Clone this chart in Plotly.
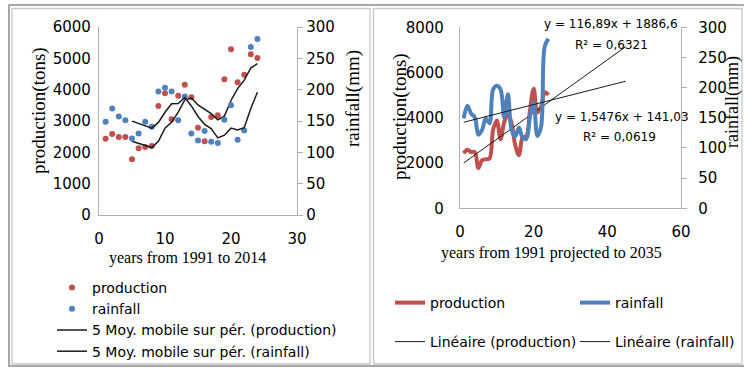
import plotly.graph_objects as go
import pandas as pd

years = list(range(1, 25))
production = [2436, 2585, 2489, 2489, 1777, 2128, 2170, 2202, 3479, 3883, 3053, 3809,
              4160, 3755, 2787, 2351, 3128, 3181, 4330, 5287, 4234, 4479, 5128, 5011]
rainfall = [149, 170, 157, 151, 122, 130, 149, 141, 197, 203, 197, 151,
            189, 130, 119, 134, 117, 115, 152, 175, 120, 135, 268, 281]
trend_x = [1, 45]
prod_trend = [116.89, 1886.6]   # slope, intercept
rain_trend = [1.5476, 141.03]

W, H = 744, 369
def px(x): return x / W
def py(y): return 1 - y / H

RED = "#c0504d"
BLUE = "#4f81bd"
AX = "#b0b0b0"
SANS = "DejaVu Sans"
SERIF = "Liberation Serif"

prod_ma = pd.Series(production).rolling(5).mean()
rain_ma = pd.Series(rainfall).rolling(5).mean()

fig = go.Figure()
# left panel
fig.add_trace(go.Scatter(x=years, y=production, mode="markers", name="production",
                         marker=dict(color=RED, size=6), xaxis="x", yaxis="y", legend="legend"))
fig.add_trace(go.Scatter(x=years, y=rainfall, mode="markers", name="rainfall",
                         marker=dict(color=BLUE, size=6), xaxis="x", yaxis="y2", legend="legend"))
fig.add_trace(go.Scatter(x=years[4:], y=prod_ma[4:], mode="lines", name="5 Moy. mobile sur pér. (production)",
                         line=dict(color="#1a1a1a", width=1.5), xaxis="x", yaxis="y", legend="legend"))
fig.add_trace(go.Scatter(x=years[4:], y=rain_ma[4:], mode="lines", name="5 Moy. mobile sur pér. (rainfall)",
                         line=dict(color="#1a1a1a", width=1.5), xaxis="x", yaxis="y2", legend="legend"))
# right panel
fig.add_trace(go.Scatter(x=years, y=production, mode="lines", name="production",
                         line=dict(color=RED, width=4, shape="spline"), xaxis="x3", yaxis="y3", legend="legend2"))
fig.add_trace(go.Scatter(x=years, y=rainfall, mode="lines", name="rainfall",
                         line=dict(color=BLUE, width=4, shape="spline"), xaxis="x3", yaxis="y4", legend="legend2"))
fig.add_trace(go.Scatter(x=trend_x, y=[prod_trend[0] * t + prod_trend[1] for t in trend_x], mode="lines",
                         name="Linéaire (production)", line=dict(color="#1a1a1a", width=1),
                         xaxis="x3", yaxis="y3", legend="legend3"))
fig.add_trace(go.Scatter(x=trend_x, y=[rain_trend[0] * t + rain_trend[1] for t in trend_x], mode="lines",
                         name="Linéaire (rainfall)", line=dict(color="#1a1a1a", width=1),
                         xaxis="x3", yaxis="y4", legend="legend3"))

tickf = dict(family=SANS, size=15, color="#000")
common = dict(showgrid=False, zeroline=False, showline=True, linecolor=AX, linewidth=1.3,
              tickfont=tickf, ticks="")

fig.update_layout(
    width=W, height=H, margin=dict(l=0, r=0, t=0, b=0, autoexpand=False),
    paper_bgcolor="white", plot_bgcolor="white",
    xaxis=dict(domain=[px(99), px(297)], range=[0, 30], dtick=10, anchor="y",
               ticklabelstandoff=10, **common),
    yaxis=dict(domain=[py(215), py(27)], range=[0, 6000], dtick=1000, anchor="x",
               ticklabelstandoff=4, **common),
    yaxis2=dict(domain=[py(215), py(27)], range=[0, 300], dtick=50, anchor="x", overlaying="y",
                side="right", ticklabelstandoff=0,
                **{**common, "ticks": "outside", "ticklen": 5, "tickcolor": AX}),
    xaxis3=dict(domain=[px(460), px(681)], range=[0, 60], dtick=20, anchor="y3",
                ticklabelstandoff=10, **common),
    yaxis3=dict(domain=[py(208.3), py(27.3)], range=[0, 8000], dtick=2000, anchor="x3",
                ticklabelstandoff=12, **common),
    yaxis4=dict(domain=[py(208.3), py(27.3)], range=[0, 300], dtick=50, anchor="x3", overlaying="y3",
                side="right", ticklabelstandoff=8,
                **{**common, "ticks": "outside", "ticklen": 5, "tickcolor": AX}),
    legend=dict(x=px(52), y=py(272), xanchor="left", yanchor="top", bgcolor="rgba(0,0,0,0)",
                font=dict(family=SANS, size=14, color="#000"), tracegroupgap=0),
    legend2=dict(x=px(390), y=py(303), xanchor="left", yanchor="middle", orientation="h",
                 bgcolor="rgba(0,0,0,0)", entrywidth=140,
                 font=dict(family=SANS, size=14, color="#000")),
    legend3=dict(x=px(390), y=py(342), xanchor="left", yanchor="middle", orientation="h",
                 bgcolor="rgba(0,0,0,0)", entrywidth=140,
                 font=dict(family=SANS, size=14, color="#000")),
    showlegend=True,
)

shapes = [
    dict(type="rect", xref="paper", yref="paper", x0=px(9), x1=px(746), y0=py(366), y1=py(5),
         line=dict(color="#8c8c8c", width=1.5)),
    dict(type="rect", xref="paper", yref="paper", x0=px(12), x1=px(370), y0=py(364), y1=py(8.5),
         line=dict(color="#c8c8c8", width=1.3)),
    dict(type="rect", xref="paper", yref="paper", x0=px(373.5), x1=px(742), y0=py(364), y1=py(8.5),
         line=dict(color="#c8c8c8", width=1.3)),
]
fig.update_layout(shapes=shapes)

ann = [
    dict(text="years from 1991 to 2014", x=px(187), y=py(258), font=dict(family=SERIF, size=16)),
    dict(text="production(tons)", x=px(39), y=py(111), textangle=-90, font=dict(family=SERIF, size=19)),
    dict(text="rainfall(mm)", x=px(353), y=py(99), textangle=-90, font=dict(family=SERIF, size=19)),
    dict(text="years from 1991 projected to 2035", x=px(551), y=py(253), font=dict(family=SERIF, size=16)),
    dict(text="production(tons)", x=px(400), y=py(117), textangle=-90, font=dict(family=SERIF, size=19)),
    dict(text="rainfall(mm)", x=px(733), y=py(102), textangle=-90, font=dict(family=SERIF, size=18)),
    dict(text="y = 116,89x + 1886,6", x=px(611), y=py(24), font=dict(family=SANS, size=12)),
    dict(text="R² = 0,6321", x=px(611), y=py(45), font=dict(family=SANS, size=12)),
    dict(text="y = 1,5476x + 141,03", x=px(622), y=py(117), font=dict(family=SANS, size=12)),
    dict(text="R² = 0,0619", x=px(619), y=py(137), font=dict(family=SANS, size=12)),
]
for a in ann:
    a.update(xref="paper", yref="paper", showarrow=False, xanchor="center", yanchor="middle")
    a["font"]["color"] = "#000"
fig.update_layout(annotations=ann)

fig.write_html("out.html", post_script="document.body.style.margin='0';",
               config={"displayModeBar": False})
